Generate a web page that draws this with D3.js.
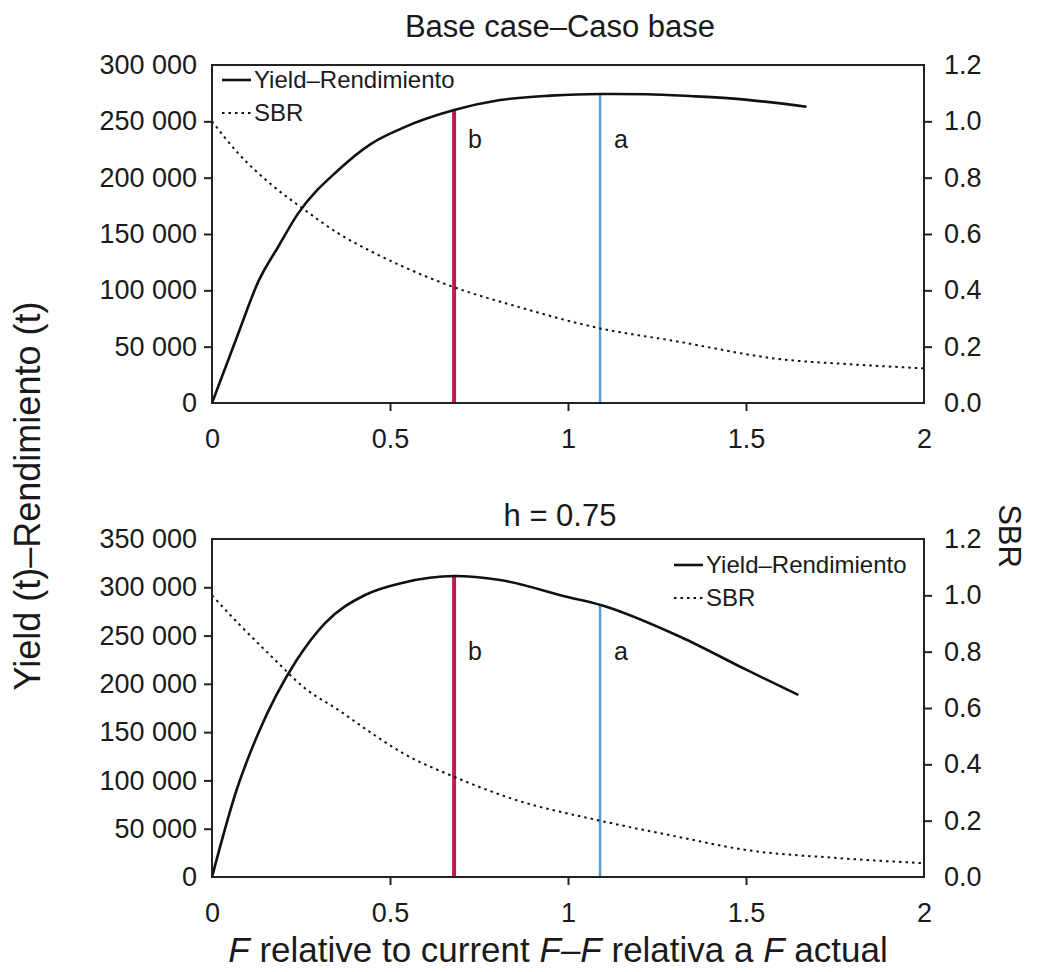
<!DOCTYPE html>
<html>
<head>
  <title>Yield and SBR vs relative F</title>
  <script src="https://d3js.org/d3.v7.min.js"></script>
  <style>
    body { margin: 0; background: #fff; }
    text { font-family: Arial, "Liberation Sans", sans-serif; fill: #1a1a1a; }
  </style>
</head>
<body>
  <div id="chart"></div>

  <script>
    // ---- data ----
    // Base case
    var topYieldF  = [0, 0.074, 0.13, 0.186, 0.242, 0.355, 0.449, 0.533, 0.68, 0.809, 0.95, 1.09, 1.22, 1.35, 1.455, 1.67];
    var topYield   = [0, 61900, 107700, 138700, 168300, 206800, 230500, 243800, 260000, 268900, 272800, 274300, 274000, 272300, 270400, 263000];
    var topSbrF    = [0, 0.074, 0.168, 0.261, 0.355, 0.449, 0.537, 0.68, 0.85, 1.09, 1.3, 1.6, 1.8, 2.0];
    var topSbr     = [1.0, 0.886, 0.774, 0.685, 0.602, 0.537, 0.484, 0.411, 0.345, 0.265, 0.22, 0.155, 0.137, 0.123];
    var topRefYield = [260000, 274300];   // tops of lines b, a

    // h = 0.75
    var botYieldF  = [0, 0.069, 0.13, 0.238, 0.317, 0.43, 0.537, 0.68, 0.809, 0.996, 1.092, 1.315, 1.502, 1.647];
    var botYield   = [0, 90100, 148800, 224700, 262700, 292000, 304800, 311700, 307500, 290300, 281700, 248800, 214400, 188500];
    var botSbrF    = [0, 0.074, 0.168, 0.261, 0.355, 0.449, 0.537, 0.68, 0.85, 1.09, 1.3, 1.5, 1.75, 2.0];
    var botSbr     = [1.0, 0.90, 0.782, 0.67, 0.593, 0.51, 0.439, 0.356, 0.275, 0.20, 0.145, 0.096, 0.068, 0.049];
    var botRefYield = [311700, 281700];

    var refF      = [0.68, 1.09];
    var refLabels = ["b", "a"];
    var refColors = ["#c8174f", "#5b9bd5"];
    var refWidths = [4, 2.5];

    var xTicks   = [0, 0.5, 1, 1.5, 2];
    var sbrTicks = [0, 0.2, 0.4, 0.6, 0.8, 1.0, 1.2];

    var svg = d3.select("#chart")
                .append("svg")
                .attr("width", 1039)
                .attr("height", 972)
                .style("background-color", "#fff");

    var x0 = 212, x1 = 924;
    var xScale = d3.scaleLinear().domain([0, 2]).range([x0, x1]);

    var spaced = d3.formatLocale({ decimal: ".", thousands: " ", grouping: [3], currency: ["", ""] }).format(",d");

    function zip(a, b) { return a.map((v, i) => ({ f: v, v: b[i] })); }

    function drawPanel(p) {
      var yScale = d3.scaleLinear().domain([0, p.yMax]).range([p.bottom, p.top]);
      var sScale = d3.scaleLinear().domain([0, 1.2]).range([p.bottom, p.top]);

      // title
      svg.append("text")
         .attr("x", 560).attr("y", p.titleY)
         .attr("text-anchor", "middle")
         .attr("font-size", 31)
         .text(p.title);

      // reference lines
      refF.forEach(function (f, i) {
        svg.append("line")
           .attr("x1", xScale(f)).attr("x2", xScale(f))
           .attr("y1", yScale(p.refYield[i])).attr("y2", p.bottom)
           .attr("stroke", refColors[i])
           .attr("stroke-width", refWidths[i]);
        svg.append("text")
           .attr("x", xScale(f) + 14).attr("y", p.labelY)
           .attr("font-size", 25)
           .text(refLabels[i]);
      });

      // SBR dotted
      svg.append("path")
         .datum(zip(p.sbrF, p.sbr))
         .attr("fill", "none")
         .attr("stroke", "#111")
         .attr("stroke-width", 2)
         .attr("stroke-dasharray", "2.5,4")
         .attr("d", d3.line().curve(d3.curveMonotoneX).x(d => xScale(d.f)).y(d => sScale(d.v)));

      // yield solid
      svg.append("path")
         .datum(zip(p.yieldF, p.yield))
         .attr("fill", "none")
         .attr("stroke", "#111")
         .attr("stroke-width", 2.6)
         .attr("d", d3.line().curve(d3.curveMonotoneX).x(d => xScale(d.f)).y(d => yScale(d.v)));

      // frame
      svg.append("rect")
         .attr("x", x0).attr("y", p.top)
         .attr("width", x1 - x0).attr("height", p.bottom - p.top)
         .attr("fill", "none")
         .attr("stroke", "#222")
         .attr("stroke-width", 2);

      // axes
      var yVals = d3.range(0, p.yMax + 1, 50000);
      var gl = svg.append("g")
                  .attr("transform", `translate(${x0},0)`)
                  .call(d3.axisLeft(yScale).tickValues(yVals).tickFormat(spaced).tickSize(8).tickPadding(7));
      gl.selectAll(".tick line").filter(d => d === 0 || d === p.yMax).remove();

      var gr = svg.append("g")
                  .attr("transform", `translate(${x1},0)`)
                  .call(d3.axisRight(sScale).tickValues(sbrTicks).tickFormat(d3.format(".1f")).tickSize(8).tickPadding(12));
      gr.selectAll(".tick line").filter(d => d === 0 || d === 1.2).remove();

      var gb = svg.append("g")
                  .attr("transform", `translate(0,${p.bottom})`)
                  .call(d3.axisBottom(xScale).tickValues(xTicks).tickFormat(d3.format("")).tickSize(8).tickPadding(18));
      gb.selectAll(".tick line").filter(d => d === 0 || d === 2).remove();

      [gl, gr, gb].forEach(function (g) {
        g.select(".domain").remove();
        g.attr("font-size", 27).attr("font-family", null);
        g.selectAll(".tick line").attr("stroke", "#222").attr("stroke-width", 2);
        g.selectAll(".tick text").attr("fill", "#1a1a1a");
      });

      // legend
      var lg = svg.append("g").attr("transform", `translate(${p.legX},${p.legY})`);
      lg.append("line").attr("x1", 0).attr("x2", 29).attr("y1", 0).attr("y2", 0)
        .attr("stroke", "#111").attr("stroke-width", 2.6);
      lg.append("text").attr("x", 32).attr("y", 0).attr("dy", "0.35em")
        .attr("font-size", 24).text("Yield\u2013Rendimiento");
      lg.append("line").attr("x1", 0).attr("x2", 29).attr("y1", 33).attr("y2", 33)
        .attr("stroke", "#111").attr("stroke-width", 2).attr("stroke-dasharray", "2.5,4");
      lg.append("text").attr("x", 32).attr("y", 33).attr("dy", "0.35em")
        .attr("font-size", 24).text("SBR");
    }

    drawPanel({
      title: "Base case\u2013Caso base", titleY: 37, top: 65, bottom: 403, yMax: 300000,
      yieldF: topYieldF, yield: topYield, sbrF: topSbrF, sbr: topSbr,
      refYield: topRefYield, labelY: 148, legX: 222, legY: 80
    });

    drawPanel({
      title: "h = 0.75", titleY: 526, top: 539, bottom: 877, yMax: 350000,
      yieldF: botYieldF, yield: botYield, sbrF: botSbrF, sbr: botSbr,
      refYield: botRefYield, labelY: 660, legX: 674, legY: 565
    });

    // axis titles
    svg.append("text")
       .attr("transform", "translate(40,496) rotate(-90)")
       .attr("text-anchor", "middle")
       .attr("font-size", 36)
       .text("Yield (t)\u2013Rendimiento (t)");

    svg.append("text")
       .attr("transform", "translate(999,536) rotate(90)")
       .attr("text-anchor", "middle")
       .attr("font-size", 31)
       .text("SBR");

    var xl = svg.append("text")
                .attr("x", 558).attr("y", 962)
                .attr("text-anchor", "middle")
                .attr("font-size", 35);
    xl.append("tspan").attr("font-style", "italic").text("F");
    xl.append("tspan").text(" relative to current ");
    xl.append("tspan").attr("font-style", "italic").text("F");
    xl.append("tspan").text("\u2013");
    xl.append("tspan").attr("font-style", "italic").text("F");
    xl.append("tspan").text(" relativa a ");
    xl.append("tspan").attr("font-style", "italic").text("F");
    xl.append("tspan").text(" actual");
  </script>
</body>
</html>
